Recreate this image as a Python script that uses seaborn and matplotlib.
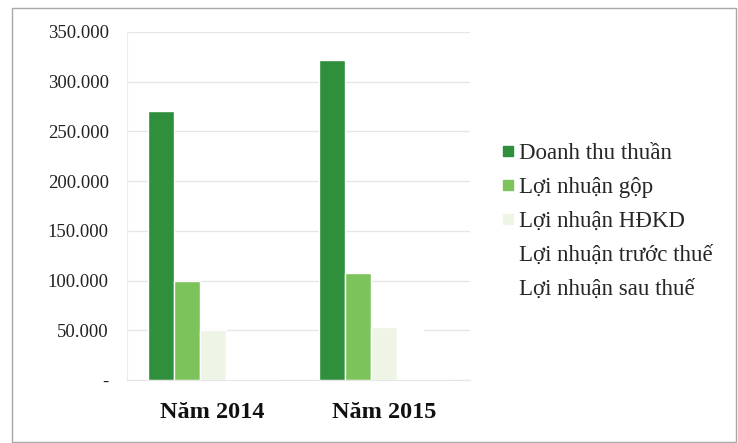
import pandas as pd
import matplotlib.pyplot as plt
import seaborn as sns
from matplotlib.lines import Line2D
from matplotlib.patches import Rectangle

years = ['Năm 2014', 'Năm 2015']
series = ['Doanh thu thuần', 'Lợi nhuận gộp', 'Lợi nhuận HĐKD',
          'Lợi nhuận trước thuế', 'Lợi nhuận sau thuế']
doanh_thu = [270000, 322000]
loi_nhuan_gop = [100000, 108000]
loi_nhuan_hdkd = [50000, 53000]
loi_nhuan_truoc_thue = [48000, 51000]
loi_nhuan_sau_thue = [38000, 41000]
colors = ['#2f8f3c', '#7dc35b', '#eef5e6', '#ffffff', '#ffffff']

values = [doanh_thu, loi_nhuan_gop, loi_nhuan_hdkd, loi_nhuan_truoc_thue, loi_nhuan_sau_thue]
rows = []
for name, vals in zip(series, values):
    for y, v in zip(years, vals):
        rows.append({'year': y, 'series': name, 'value': v})
df = pd.DataFrame(rows)

sns.set_style('white')
plt.rcParams['font.family'] = ['Liberation Serif', 'DejaVu Serif']

fig = plt.figure(figsize=(7.38, 4.43), dpi=100)
ax = fig.add_axes([0.172, 0.142, 0.465, 0.786])
sns.barplot(data=df, x='year', y='value', hue='series', hue_order=series,
            palette=colors, width=0.76, gap=0, saturation=1, legend=False, ax=ax)

ax.set_ylim(0, 350000)
ax.set_yticks(range(0, 350001, 50000))
ax.set_yticklabels(['-' if v == 0 else f'{v:,}'.replace(',', '.') for v in range(0, 350001, 50000)],
                   fontsize=13.5, color='#222222')
ax.tick_params(axis='y', length=0, pad=13)
ax.tick_params(axis='x', length=0, pad=16)
for lab in ax.get_xticklabels():
    lab.set_fontsize(17.5)
    lab.set_fontweight('bold')
    lab.set_color('#111111')
ax.set_xlabel('')
ax.set_ylabel('')
ax.grid(axis='y', color='#e6e6e6', lw=1)
ax.set_axisbelow(True)
for side in ['top', 'right']:
    ax.spines[side].set_visible(False)
ax.spines['left'].set_color('#ececec')
ax.spines['bottom'].set_color('#e6e6e6')

handles = [Line2D([], [], marker='s', linestyle='', markersize=7,
                  markerfacecolor=c, markeredgecolor=c) for c in colors]
fig.legend(handles, series, loc='upper left', bbox_to_anchor=(0.652, 0.723),
           frameon=False, fontsize=16.5, handlelength=0.5, handletextpad=0.25,
           labelspacing=0.56)

fig.patches.append(Rectangle((12 / 738, 1 / 443), 724 / 738, 434 / 443,
                             transform=fig.transFigure, fill=False,
                             edgecolor='#a8a8a8', lw=1))

fig.savefig('out.png', dpi=100)
